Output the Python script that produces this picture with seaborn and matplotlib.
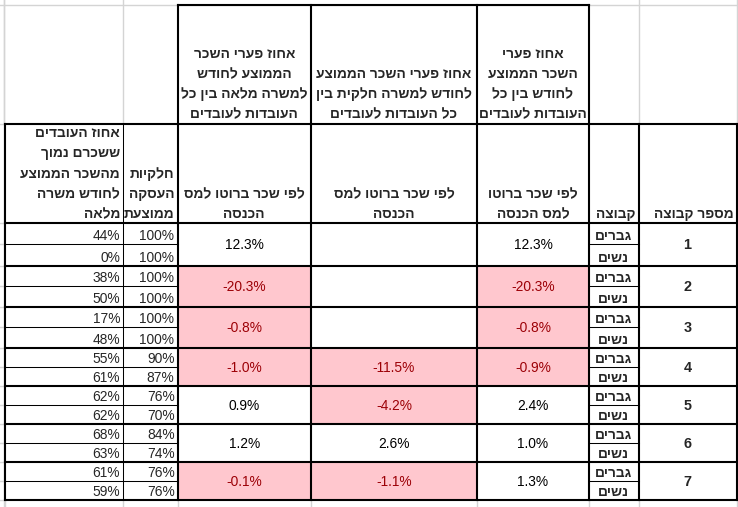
import matplotlib
matplotlib.use("Agg")
import matplotlib.pyplot as plt
from matplotlib.patches import Rectangle
import seaborn as sns

# ---------------- data ----------------
groups = [1, 2, 3, 4, 5, 6, 7]
genders = ["גברים", "נשים"]
below_avg_pct = [[44, 0], [38, 50], [17, 48], [55, 61], [62, 62], [68, 63], [61, 59]]
part_time_pct = [[100, 100], [100, 100], [100, 100], [90, 87], [76, 70], [84, 74], [76, 76]]
gap_full_time = [12.3, -20.3, -0.8, -1.0, 0.9, 1.2, -0.1]
gap_part_time = [None, None, None, -11.5, -4.2, 2.6, -1.1]
gap_all = [12.3, -20.3, -0.8, -0.9, 2.4, 1.0, 1.3]

top_headers = [
    ["אחוז פערי השכר", "הממוצע לחודש", "למשרה מלאה בין כל", "העובדות לעובדים"],
    ["אחוז פערי השכר הממוצע", "לחודש למשרה חלקית בין", "כל העובדות לעובדים"],
    ["אחוז פערי", "השכר הממוצע", "לחודש בין כל", "העובדות לעובדים"],
]
sub_headers = [
    ["אחוז העובדים", "ששכרם נמוך", "מהשכר הממוצע", "לחודש משרה", "מלאה"],
    ["חלקיות", "העסקה", "ממוצעת"],
    ["לפי שכר ברוטו למס", "הכנסה"],
    ["לפי שכר ברוטו למס", "הכנסה"],
    ["לפי שכר ברוטו", "למס הכנסה"],
    ["קבוצה"],
    ["מספר קבוצה"],
]

# ---------------- style ----------------
sns.set_theme(style="white")
plt.rcParams["font.family"] = ["Liberation Sans", "DejaVu Sans"]

PINK = "#FFC7CE"
DARKRED = "#9C0006"
GRID = "#D4D4D4"
THICK = 1.5
THIN = 0.75
FS = 9.9


def vis(s):
    # matplotlib has no bidi: put Hebrew characters in visual order
    return s[::-1]


W, H = 738, 507
fig = plt.figure(figsize=(W / 100, H / 100), dpi=100)
ax = fig.add_axes([0, 0, 1, 1])
ax.set_xlim(0, W)
ax.set_ylim(H, 0)
ax.axis("off")

# layout (pixel positions)
xe = [5, 123, 177.5, 311, 477, 589, 638.5, 736.5]
y_top, y_mid, y_hdr = 5, 123.5, 223
gb = [223, 265.5, 307, 347.5, 386, 424, 462, 500]


def hline(y, x0, x1, lw, c="black"):
    ax.plot([x0, x1], [y, y], color=c, lw=lw, solid_capstyle="projecting", zorder=3 if c == "black" else 1)


def vline(x, y0, y1, lw, c="black"):
    ax.plot([x, x], [y0, y1], color=c, lw=lw, solid_capstyle="projecting", zorder=3 if c == "black" else 1)


# ---------- excel gridlines (background) ----------
hline(y_top, 0, W, 1, GRID)
for x in [4, xe[1], xe[6], xe[7]]:
    vline(x, 0, y_mid, 1, GRID)
for x in xe:
    vline(x, gb[-1], H, 1, GRID)
vline(4, 0, H, 1, GRID)
for g in range(7):
    m = (gb[g] + gb[g + 1]) / 2
    hline(m, 0, xe[0], 1, GRID)
    hline(gb[g], 0, xe[0], 1, GRID)
hline(y_mid, 0, xe[0], 1, GRID)
hline(gb[-1] + 0, 0, xe[0], 1, GRID)

# ---------- pink fills for negative gaps ----------
gap_cols = [gap_full_time, gap_part_time, gap_all]
for ci, col in enumerate(gap_cols):
    x0, x1 = xe[2 + ci], xe[3 + ci]
    for g, v in enumerate(col):
        if v is not None and v < 0:
            ax.add_patch(Rectangle((x0, gb[g]), x1 - x0, gb[g + 1] - gb[g],
                                   facecolor=PINK, edgecolor="none", zorder=0))

# ---------- borders ----------
# header box over the three gap columns
hline(y_top, xe[2], xe[5], THICK)
for x in xe[2:6]:
    vline(x, y_top, y_mid, THICK)
hline(y_mid, xe[0], xe[7], THICK)
hline(y_hdr, xe[0], xe[7], THICK)
for x in xe:
    vline(x, y_mid, gb[-1], THIN if x == xe[1] else THICK)
for y in gb[1:]:
    hline(y, xe[0], xe[7], THICK)
for g in range(7):
    m = (gb[g] + gb[g + 1]) / 2
    hline(m, xe[0], xe[2], THIN)
    hline(m, xe[5], xe[6], THIN)

# ---------- header text ----------
LS = 20.2
for ci, lines in enumerate(top_headers):
    cx = (xe[2 + ci] + xe[3 + ci]) / 2
    n = len(lines)
    for i, t in enumerate(lines):
        y = y_mid - 9 - LS * (n - 1 - i)
        ax.text(cx, y, vis(t), ha="center", va="center", fontsize=FS, fontweight="bold", zorder=5)

for ci, lines in enumerate(sub_headers):
    if ci in (2, 3, 4):
        x, ha = (xe[ci] + xe[ci + 1]) / 2, "center"
    else:
        x, ha = xe[ci + 1] - 3, "right"
    n = len(lines)
    for i, t in enumerate(lines):
        y = y_hdr - 9 - LS * (n - 1 - i)
        ax.text(x, y, vis(t), ha=ha, va="center", fontsize=FS, fontweight="bold", zorder=5)

# ---------- body text ----------
for g in range(7):
    top, bot = gb[g], gb[g + 1]
    mid = (top + bot) / 2
    sub_bottoms = [mid, bot]
    for s in range(2):
        yb = sub_bottoms[s] - 4
        ax.text(xe[1] - 3, yb, f"{below_avg_pct[g][s]}%", ha="right", va="baseline", fontsize=FS, zorder=5)
        ax.text(xe[2] - 3, yb, f"{part_time_pct[g][s]}%", ha="right", va="baseline", fontsize=FS, zorder=5)
        ax.text((xe[5] + xe[6]) / 2, yb, vis(genders[s]), ha="center", va="baseline",
                fontsize=FS, fontweight="bold", zorder=5)
    for ci, col in enumerate(gap_cols):
        v = col[g]
        if v is None:
            continue
        ax.text((xe[2 + ci] + xe[3 + ci]) / 2, mid + 1, f"{v:.1f}%", ha="center", va="center",
                fontsize=FS, color=DARKRED if v < 0 else "black", zorder=5)
    ax.text((xe[6] + xe[7]) / 2, mid + 1, str(groups[g]), ha="center", va="center",
            fontsize=FS + 0.5, fontweight="bold", zorder=5)

fig.savefig("out.png", dpi=100, facecolor="white")
